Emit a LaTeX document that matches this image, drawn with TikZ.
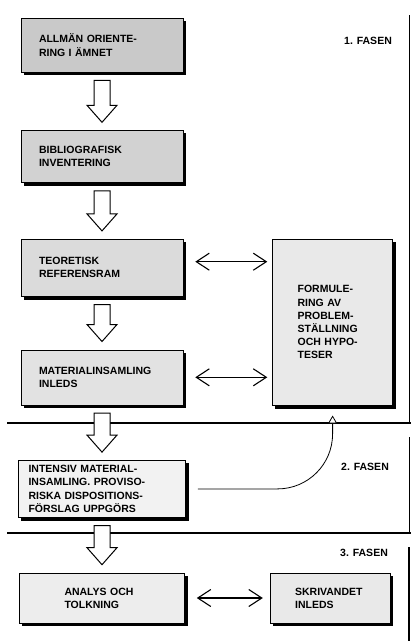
\documentclass[tikz,border=0pt]{standalone}
\usepackage{fontspec}
\setmainfont{Liberation Sans}
\usetikzlibrary{positioning,calc,backgrounds,arrows.meta}

% hollow block arrow from one box down to the next
\newcommand{\blockarrow}[2]{%
  \draw[hollow] let \p1=(#1.south), \p2=(#2.north) in
    (\x1-8pt,\y1-8pt) -- (\x1+8pt,\y1-8pt) -- (\x1+8pt,\y2+25pt)
    -- (\x1+15pt,\y2+25pt) -- (\x1,\y2+8pt) -- (\x1-15pt,\y2+25pt)
    -- (\x1-8pt,\y2+25pt) -- cycle;}

\begin{document}
\begin{tikzpicture}[x=1pt, y=-1pt,
    box/.style={draw, line width=0.6pt, align=left, text width=126pt,
      inner xsep=18pt, inner ysep=0pt,
      font=\fontsize{10.5}{13.2}\selectfont\bfseries},
    hollow/.style={draw, line width=1pt, fill=white, line join=miter},
    both/.style={{Straight Barb[length=13pt,width=17pt]}-{Straight Barb[length=13pt,width=17pt]},
      line width=1.1pt},
    phase/.style={font=\fontsize{10.5}{12}\selectfont\bfseries},
    rule/.style={line width=2.8pt},
    edge/.style={line width=0.8pt}]
  \useasboundingbox (0,0) rectangle (411,641);

  % phases
  \draw[rule] (7,423) -- (411,423);
  \draw[rule] (7,533) -- (411,533);
  \draw[edge] (409,15) -- (409,423);
  \draw[edge] (409,437) -- (409,533);
  \draw[line width=1.4pt] (409,547) -- (409,641);
  \node[phase] (P1) at (368,41) {1. FASEN};
  \node[phase] (P2) at (365,467) {2. FASEN};
  \node[phase] (P3) at (364,553) {3. FASEN};

  % boxes
  \node[box, fill=gray!42, minimum height=54pt] (O) at (102,45) {ALLMÄN ORIENTE-\\RING I ÄMNET};
  \node[box, fill=gray!35, minimum height=52pt, below=58pt of O] (B) {BIBLIOGRAFISK\\INVENTERING};
  \node[box, fill=gray!28, minimum height=57pt, below=56pt of B] (T) {TEORETISK\\REFERENSRAM};
  \node[box, fill=gray!23, minimum height=55pt, below=53pt of T] (M) {MATERIALINSAMLING\\INLEDS};
  \node[box, fill=gray!10, minimum height=57pt, text width=147pt, inner xsep=10pt,
    below=55pt of M] (I) {INTENSIV MATERIAL-\\INSAMLING. PROVISO-\\RISKA DISPOSITIONS-\\FÖRSLAG UPPGÖRS};
  \node[box, fill=gray!14, minimum height=50pt, text width=75pt, inner xsep=45pt,
    below=55pt of I] (A) {ANALYS OCH\\TOLKNING};
  \node[box, fill=gray!17, minimum height=50pt, text width=70pt, inner xsep=25pt,
    right=85pt of A] (S) {SKRIVANDET\\INLEDS};
  \node[box, fill=gray!17, minimum height=166pt, text width=70pt, inner xsep=25pt,
    right=89pt of T.north east, anchor=north west] (F)
    {FORMULE-\\RING AV\\PROBLEM-\\STÄLLNING\\OCH HYPO-\\TESER};

  % shadows
  \begin{scope}[on background layer]
    \foreach \n in {O,B,T,M,I,A,S,F}
      \fill ([xshift=3pt,yshift=-3pt]\n.south west) rectangle ([xshift=3pt,yshift=-3pt]\n.north east);
  \end{scope}

  % arrows
  \blockarrow{O}{B}
  \blockarrow{B}{T}
  \blockarrow{T}{M}
  \blockarrow{M}{I}
  \blockarrow{I}{A}
  \draw[both] ([xshift=12pt,yshift=6pt]T.east) -- ([xshift=-5pt,yshift=6pt]T.east -| F.west);
  \draw[both] ([xshift=12pt]M.east) -- ([xshift=-5pt]M.east -| F.west);
  \draw[both] ([xshift=12pt]A.east) -- ([xshift=-7pt]S.west);
  \draw[edge, -{Triangle[length=8pt,width=9pt,fill=white]}, rounded corners=55pt]
    ([xshift=12pt]I.east) -| ([yshift=-10pt]F.south);
\end{tikzpicture}
\end{document}
